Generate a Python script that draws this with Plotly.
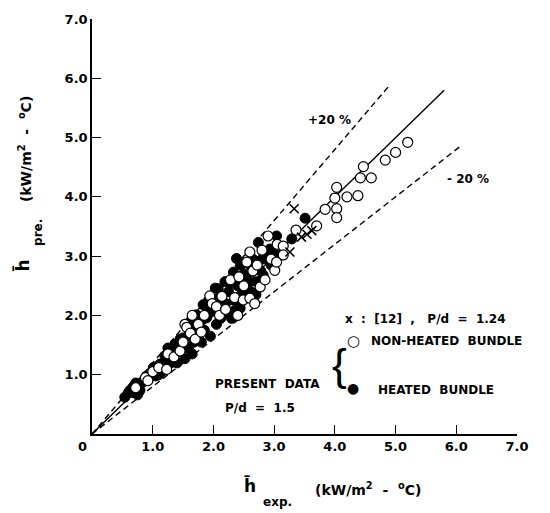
import plotly.graph_objects as go

# ---------------- data ----------------
heated_x = [0.54, 0.60, 0.63, 0.68, 0.72, 0.79, 0.75, 0.85, 0.98, 1.01, 1.05, 1.12, 1.15, 1.20, 1.23,
            1.30, 1.37, 1.39, 1.45, 1.50, 1.53, 1.55, 1.59, 1.60, 1.65, 1.70, 1.72, 1.75, 1.78, 1.83,
            1.85, 1.89, 1.90, 1.95, 2.00, 2.03, 2.03, 2.05, 2.10, 2.12, 2.16, 2.19, 2.20, 2.25, 2.30,
            2.33, 2.33, 2.38, 2.40, 2.44, 2.50, 2.55, 2.60, 2.62, 2.71, 2.74, 2.80, 2.82, 2.88, 2.93,
            2.95, 3.04, 3.00, 3.29, 3.51, 1.40, 1.80, 1.10, 0.95, 2.70,
            1.62, 1.68, 1.92, 2.08, 2.15, 2.28, 2.35, 2.45, 2.48, 2.58, 2.65, 2.78, 2.90, 1.25,
            1.32, 0.90, 0.66]
heated_y = [0.62, 0.70, 0.74, 0.80, 0.86, 0.74, 0.66, 0.88, 1.01, 1.12, 0.98, 1.18, 1.05, 1.32, 1.22,
            1.20, 1.51, 1.37, 1.60, 1.62, 1.27, 1.45, 1.46, 1.75, 1.35, 1.79, 2.01, 1.60, 1.90, 2.18,
            1.75, 1.96, 2.05, 1.65, 2.12, 2.46, 2.07, 1.85, 2.30, 1.95, 2.01, 2.57, 2.20, 2.40, 1.95,
            2.73, 2.07, 2.96, 2.50, 2.12, 2.70, 2.62, 2.85, 2.40, 2.57, 3.23, 2.95, 2.68, 3.05, 3.12,
            2.85, 3.34, 3.05, 3.29, 3.64, 1.20, 1.55, 1.00, 0.95, 2.35,
            1.90, 1.55, 2.25, 2.45, 2.15, 2.55, 2.25, 2.85, 2.40, 2.55, 2.95, 2.75, 2.95, 1.45,
            1.30, 0.98, 0.70]

nonheated_x = [0.72, 0.88, 0.92, 1.00, 1.10, 1.23, 1.25, 1.35, 1.45, 1.50, 1.53, 1.56, 1.62, 1.70,
               1.75, 1.80, 1.85, 1.94, 1.98, 2.05, 2.10, 2.14, 2.20, 2.28, 2.35, 2.42, 2.49, 2.50,
               2.55, 2.60, 2.60, 2.65, 2.72, 2.77, 2.80, 2.85, 2.90, 2.95, 3.01, 3.04, 3.05, 2.68,
               2.40, 1.65,
               3.15, 3.15, 3.36, 3.70, 3.84, 4.03, 4.03, 4.00, 4.03, 4.20, 4.38, 4.42, 4.60, 4.47,
               4.83, 5.00, 5.20]
nonheated_y = [0.78, 0.95, 0.90, 1.05, 1.12, 1.09, 1.35, 1.30, 1.40, 1.55, 1.85, 1.80, 1.70, 1.60,
               1.85, 1.72, 2.00, 2.33, 2.20, 2.15, 2.00, 2.32, 2.10, 2.60, 2.30, 2.65, 2.26, 2.50,
               2.90, 3.07, 2.29, 2.75, 2.85, 2.48, 3.10, 2.60, 3.34, 2.95, 2.76, 2.90, 3.20, 2.20,
               2.00, 2.00,
               3.17, 3.02, 3.44, 3.51, 3.79, 3.80, 3.65, 3.98, 4.16, 4.00, 4.02, 4.32, 4.32, 4.51,
               4.62, 4.75, 4.92]

ref12_x = [3.33, 3.62, 3.45, 3.26, 3.54]
ref12_y = [3.80, 3.43, 3.32, 3.07, 3.37]

# reference lines: y = factor * x, drawn up to given x end
line_factor = [1.0, 1.2, 0.8]
line_xend = [5.8, 4.88, 6.1]
line_dash = ["solid", "6px,4px", "6px,4px"]

tick_vals = [1, 2, 3, 4, 5, 6, 7]
tick_text = ["1.0", "2.0", "3.0", "4.0", "5.0", "6.0", "7.0"]

# ---------------- figure ----------------
W, H = 550, 513
L, R, T, B = 92, 33, 13, 79
FONT = "DejaVu Sans"


def px2paper(px):
    return (px - L) / (W - L - R)


def py2paper(py):
    return (H - B - py) / (H - T - B)


fig = go.Figure()

for f, xe, d in zip(line_factor, line_xend, line_dash):
    fig.add_trace(go.Scatter(x=[0, xe], y=[0, f * xe], mode="lines",
                             line=dict(color="black", width=1.4, dash=d),
                             hoverinfo="skip", showlegend=False))

fig.add_trace(go.Scatter(x=heated_x, y=heated_y, mode="markers",
                         marker=dict(symbol="circle", size=10, color="black",
                                     line=dict(color="black", width=1)),
                         showlegend=False))
fig.add_trace(go.Scatter(x=nonheated_x, y=nonheated_y, mode="markers",
                         marker=dict(symbol="circle", size=10, color="white",
                                     line=dict(color="black", width=1.2)),
                         showlegend=False))
fig.add_trace(go.Scatter(x=ref12_x, y=ref12_y, mode="markers",
                         marker=dict(symbol="x-thin", size=9, color="black",
                                     line=dict(color="black", width=1.6)),
                         showlegend=False))

axis_common = dict(range=[0, 7], showgrid=False, zeroline=False, showline=True,
                   linecolor="black", linewidth=1.5, ticks="inside", ticklen=9,
                   tickwidth=1.3, tickcolor="black", tickvals=tick_vals, ticktext=tick_text,
                   tickfont=dict(family=FONT, size=13, color="black", weight="bold"))

fig.update_layout(
    width=W, height=H,
    margin=dict(l=L, r=R, t=T, b=B),
    paper_bgcolor="white", plot_bgcolor="white",
    xaxis=dict(**axis_common),
    yaxis=dict(**axis_common),
    font=dict(family=FONT, color="black"),
)


def ann(text, px, py, size=12, xanchor="center", angle=0, bold=True, family=FONT):
    fig.add_annotation(x=px2paper(px), y=py2paper(py), xref="paper", yref="paper", text=text,
                       showarrow=False, xanchor=xanchor, yanchor="middle", textangle=angle,
                       font=dict(family=family, size=size, color="black",
                                 weight="bold" if bold else "normal"))


ann("0", 82, 447, size=13)
ann("+20 %", 329, 115, size=12)
ann("- 20 %", 468, 175, size=12)
ann("x  :  [12]  ,   P/d  =  1.24", 343, 317, size=12, xanchor="left")
ann("○", 353, 340, size=15, bold=False)
ann("NON-HEATED  BUNDLE", 369, 340, size=12, xanchor="left")
ann("●", 353, 387, size=14, bold=False)
ann("HEATED  BUNDLE", 376, 389, size=12, xanchor="left")
ann("{", 339, 364, size=44, bold=False, family="Liberation Sans")
ann("PRESENT  DATA", 213, 383, size=12, xanchor="left")
ann("P/d  =  1.5", 223, 408, size=12, xanchor="left")

# axis titles
ann("h\u0304", 250, 486, size=17)
ann("exp.", 277, 503, size=12)
ann("(kW/m<sup>2</sup>  -  <sup>o</sup>C)", 313, 490, size=14, xanchor="left")
fig.add_annotation(x=px2paper(22), y=py2paper(263), xref="paper", yref="paper", text="h\u0304",
                   showarrow=False, textangle=-90, xanchor="center", yanchor="middle",
                   font=dict(family=FONT, size=17, color="black", weight="bold"))
fig.add_annotation(x=px2paper(38), y=py2paper(230), xref="paper", yref="paper", text="pre.",
                   showarrow=False, textangle=-90, xanchor="center", yanchor="middle",
                   font=dict(family=FONT, size=12, color="black", weight="bold"))
fig.add_annotation(x=px2paper(25), y=py2paper(145), xref="paper", yref="paper",
                   text="(kW/m<sup>2</sup>  -  <sup>o</sup>C)",
                   showarrow=False, textangle=-90, xanchor="center", yanchor="middle",
                   font=dict(family=FONT, size=14, color="black", weight="bold"))

fig.write_html("out.html", config={"displayModeBar": False},
               post_script="document.body.style.margin='0';")
